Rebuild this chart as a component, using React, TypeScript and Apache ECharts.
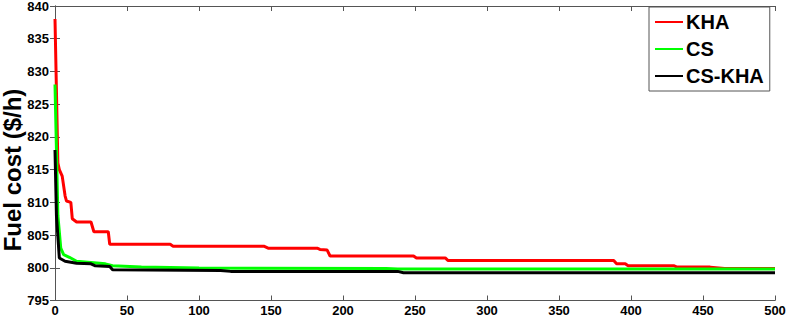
import React, { useEffect, useRef } from "react";
import * as echarts from "echarts";

const seriesNames = ["KHA", "CS", "CS-KHA"];
const yTitle = "Fuel cost ($/h)";
const khaData: [number, number][] = [
  [0, 838], [2, 816], [3, 815], [5, 814], [7, 811], [8, 810.2], [11, 810], [12, 807.5],
  [15, 807], [25, 807], [27, 805.5], [37, 805.5], [38, 803.6], [80, 803.6], [82, 803.3],
  [145, 803.3], [148, 803], [182, 803], [184, 802.8], [189, 802.7], [191, 801.8],
  [249, 801.8], [251, 801.5], [271, 801.5], [273, 801.1], [388, 801.1], [390, 800.6],
  [396, 800.6], [398, 800.3], [430, 800.3], [432, 800.1], [455, 800.1], [465, 799.9], [500, 799.9],
];
const csData: [number, number][] = [
  [0, 828], [1, 818], [2, 808], [4, 803], [6, 802], [10, 801.6], [15, 801], [25, 800.8],
  [35, 800.6], [40, 800.3], [60, 800.1], [100, 799.95], [230, 799.9], [238, 799.8], [500, 799.8],
];
const cskhaData: [number, number][] = [
  [0, 818], [1, 808], [3, 801.5], [7, 801], [15, 800.7], [25, 800.6], [28, 800.3],
  [38, 800.2], [40, 799.7], [115, 799.6], [122, 799.45], [238, 799.45], [242, 799.25], [500, 799.25],
];
const colors = ["#ff0000", "#00ff00", "#000000"];

export default function App() {
  const ref = useRef<HTMLDivElement>(null);
  useEffect(() => {
    if (!ref.current) return;
    const chart = echarts.init(ref.current, null, { renderer: "svg" });
    const font = "'Liberation Sans', Arial, sans-serif";
    const axisLine = { show: true, lineStyle: { color: "#555", width: 1 } };
    const tick = { show: true, inside: true, length: 5, lineStyle: { color: "#555" } };
    const datas = [khaData, csData, cskhaData];
    chart.setOption({
      animation: false,
      backgroundColor: "#fff",
      grid: { left: 55, right: 11, top: 6, bottom: 16.5, containLabel: false, outerBoundsMode: "none" },
      graphic: [
        {
          type: "text",
          x: 12,
          y: 170,
          rotation: Math.PI / 2,
          style: {
            text: yTitle,
            fontSize: 24,
            fontWeight: "bold",
            fontFamily: font,
            fill: "#000",
            align: "center",
            verticalAlign: "middle",
          },
        },
      ],
      legend: {
        orient: "vertical",
        left: 649,
        top: 7,
        data: seriesNames,
        borderColor: "#555",
        borderWidth: 1,
        backgroundColor: "#fff",
        padding: [5, 6, 5, 5],
        itemWidth: 28,
        itemHeight: 20,
        itemGap: 7,
        itemStyle: { opacity: 0 },
        lineStyle: { width: 2 },
        textStyle: { fontSize: 20, fontWeight: "bold", color: "#000", fontFamily: font, padding: [0, 0, 0, -2] },
      },
      xAxis: [
        {
          type: "value", min: 0, max: 500, interval: 50, position: "bottom",
          axisLine, axisTick: tick, splitLine: { show: false },
          axisLabel: { fontSize: 13, fontWeight: "bold", color: "#000", fontFamily: font, margin: 3 },
        },
        {
          type: "value", min: 0, max: 500, interval: 50, position: "top",
          axisLine, axisTick: tick, splitLine: { show: false }, axisLabel: { show: false },
        },
      ],
      yAxis: [
        {
          type: "value", min: 795, max: 840, interval: 5, position: "left",
          axisLine, axisTick: tick, splitLine: { show: false },
          axisLabel: { fontSize: 13, fontWeight: "bold", color: "#000", fontFamily: font, margin: 6 },
        },
        {
          type: "value", min: 795, max: 840, interval: 5, position: "right",
          axisLine, axisTick: tick, splitLine: { show: false }, axisLabel: { show: false },
        },
      ],
      series: seriesNames.map((n, i) => ({
        name: n,
        type: "line",
        data: datas[i],
        symbol: "none",
        showSymbol: false,
        color: colors[i],
        lineStyle: { color: colors[i], width: 3 },
        z: 2 + i,
      })),
    });
    return () => chart.dispose();
  }, []);
  return (
    <div ref={ref} style={{ position: "fixed", left: 0, top: 0, width: 786, height: 317 }} />
  );
}
